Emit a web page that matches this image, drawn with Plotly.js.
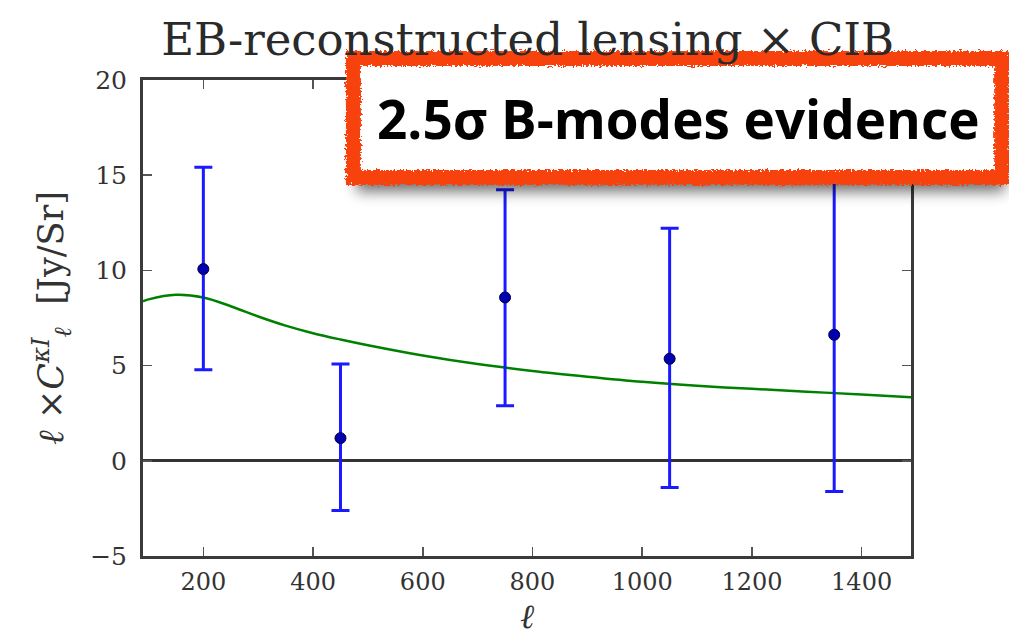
<!DOCTYPE html>
<html>
<head>
<meta charset="utf-8">
<script src="https://cdn.plot.ly/plotly-3.0.1.min.js"></script>
<style>
  html, body { margin: 0; padding: 0; background: #ffffff; }
  #chart { width: 1009px; height: 639px; }
</style>
</head>
<body>
<svg width="0" height="0" style="position:absolute">
  <defs>
    <!-- ragged edge for the callout border -->
    <filter id="ragged" x="-5%" y="-10%" width="110%" height="120%">
      <feTurbulence type="fractalNoise" baseFrequency="0.45" numOctaves="2" seed="3" result="noise"/>
      <feDisplacementMap in="SourceGraphic" in2="noise" scale="7" xChannelSelector="R" yChannelSelector="G"/>
    </filter>
    <!-- soft drop shadow -->
    <filter id="softshadow" x="-10%" y="-30%" width="120%" height="160%">
      <feGaussianBlur stdDeviation="7"/>
    </filter>
  </defs>
</svg>
<div id="chart"></div>
<script>
// Binned cross-spectrum measurements
const binCenters = [200, 450, 750, 1050, 1350];
const binValues  = [10.07, 1.19, 8.58, 5.36, 6.62];
const errPlus    = [5.35, 3.89, 5.65, 6.86, 8.5];
const errMinus   = [5.29, 3.80, 5.69, 6.76, 8.23];

// Theory expectation
const modelEll = [90, 100, 150, 200, 250, 300, 350, 400, 450, 500, 600, 700, 800, 900, 1000, 1100, 1200, 1300, 1400, 1490];
const modelVal = [8.38, 8.48, 8.72, 8.58, 8.12, 7.58, 7.10, 6.70, 6.37, 6.07, 5.53, 5.08, 4.72, 4.42, 4.15, 3.94, 3.78, 3.63, 3.48, 3.34];

const yTicks = [-5, 0, 5, 10, 15, 20];
const xTicks = [200, 400, 600, 800, 1000, 1200, 1400];

const serif = 'DejaVu Serif, serif';
const axisColor = '#3a3a3a';

const model = {
  x: modelEll, y: modelVal,
  type: 'scatter', mode: 'lines',
  line: { color: '#008000', width: 2.5, shape: 'spline', smoothing: 1 },
  hoverinfo: 'skip', showlegend: false
};

const points = {
  x: binCenters, y: binValues,
  type: 'scatter', mode: 'markers',
  marker: { color: '#0000b0', size: 11, line: { color: '#000040', width: 1 } },
  error_y: {
    type: 'data', symmetric: false,
    array: errPlus, arrayminus: errMinus,
    color: '#1a1aff', thickness: 3, width: 9
  },
  showlegend: false
};

// Callout box drawn in paper coordinates
const box = { x0: 0.274, x1: 1.118, y0: 0.795, y1: 1.045 };
const shapes = [
  {
    // shadow
    type: 'rect', xref: 'paper', yref: 'paper', layer: 'above',
    x0: box.x0 + 0.004, x1: box.x1 + 0.004, y0: box.y0 - 0.03, y1: box.y1 - 0.03,
    fillcolor: 'rgba(0,0,0,0.55)', line: { width: 0 }
  },
  {
    // border and white face
    type: 'rect', xref: 'paper', yref: 'paper', layer: 'above',
    x0: box.x0, x1: box.x1, y0: box.y0, y1: box.y1,
    fillcolor: '#ffffff', line: { color: '#f8420f', width: 15 }
  }
];

const layout = {
  width: 1009, height: 639,
  margin: { l: 143, r: 98, t: 80, b: 83 },
  paper_bgcolor: '#ffffff', plot_bgcolor: '#ffffff',
  title: {
    text: 'EB-reconstructed lensing × CIB',
    font: { family: serif, size: 45, color: '#2a2a2a' },
    x: 0.523, xanchor: 'center', y: 0.938, yanchor: 'middle'
  },
  xaxis: {
    range: [90, 1490],
    tickvals: xTicks, ticktext: xTicks.map(String),
    ticks: 'inside', ticklen: 9, tickwidth: 1.5, tickcolor: '#555',
    mirror: 'ticks', showline: true, linecolor: axisColor, linewidth: 3,
    showgrid: false, zeroline: false,
    ticklabelstandoff: 2,
    tickfont: { family: serif, size: 24, color: '#333' },
    title: { text: '<i>ℓ</i>', font: { family: serif, size: 34, color: '#333' }, standoff: 0 }
  },
  yaxis: {
    range: [-5, 20],
    tickvals: yTicks, ticktext: yTicks.map(v => v < 0 ? '\u2212' + Math.abs(v) : String(v)),
    ticks: 'inside', ticklen: 9, tickwidth: 1.5, tickcolor: '#555',
    mirror: 'ticks', showline: true, linecolor: axisColor, linewidth: 3,
    showgrid: false,
    zeroline: true, zerolinecolor: '#333', zerolinewidth: 3,
    ticklabelstandoff: 8,
    tickfont: { family: serif, size: 25, color: '#333' },
    title: {
      text: '<i>ℓ</i> ×<i>C</i><sup><i>κI</i></sup><sub><i>ℓ</i></sub>  [Jy/Sr]',
      font: { family: serif, size: 35, color: '#333' }, standoff: 16
    }
  },
  shapes: shapes,
  annotations: [{
    xref: 'paper', yref: 'paper',
    x: (box.x0 + box.x1) / 2, y: (box.y0 + box.y1) / 2,
    xanchor: 'center', yanchor: 'middle',
    text: '<b>2.5σ B-modes evidence</b>',
    showarrow: false,
    font: { family: 'Open Sans, sans-serif', size: 53, color: '#000000' }
  }]
};

Plotly.newPlot('chart', [model, points], layout, { displayModeBar: false, staticPlot: true })
  .then(gd => {
    const paths = gd.querySelectorAll('.layer-above .shapelayer path');
    if (paths.length >= 2) {
      paths[0].setAttribute('filter', 'url(#softshadow)');
      paths[1].setAttribute('filter', 'url(#ragged)');
    }
  });
</script>
</body>
</html>
